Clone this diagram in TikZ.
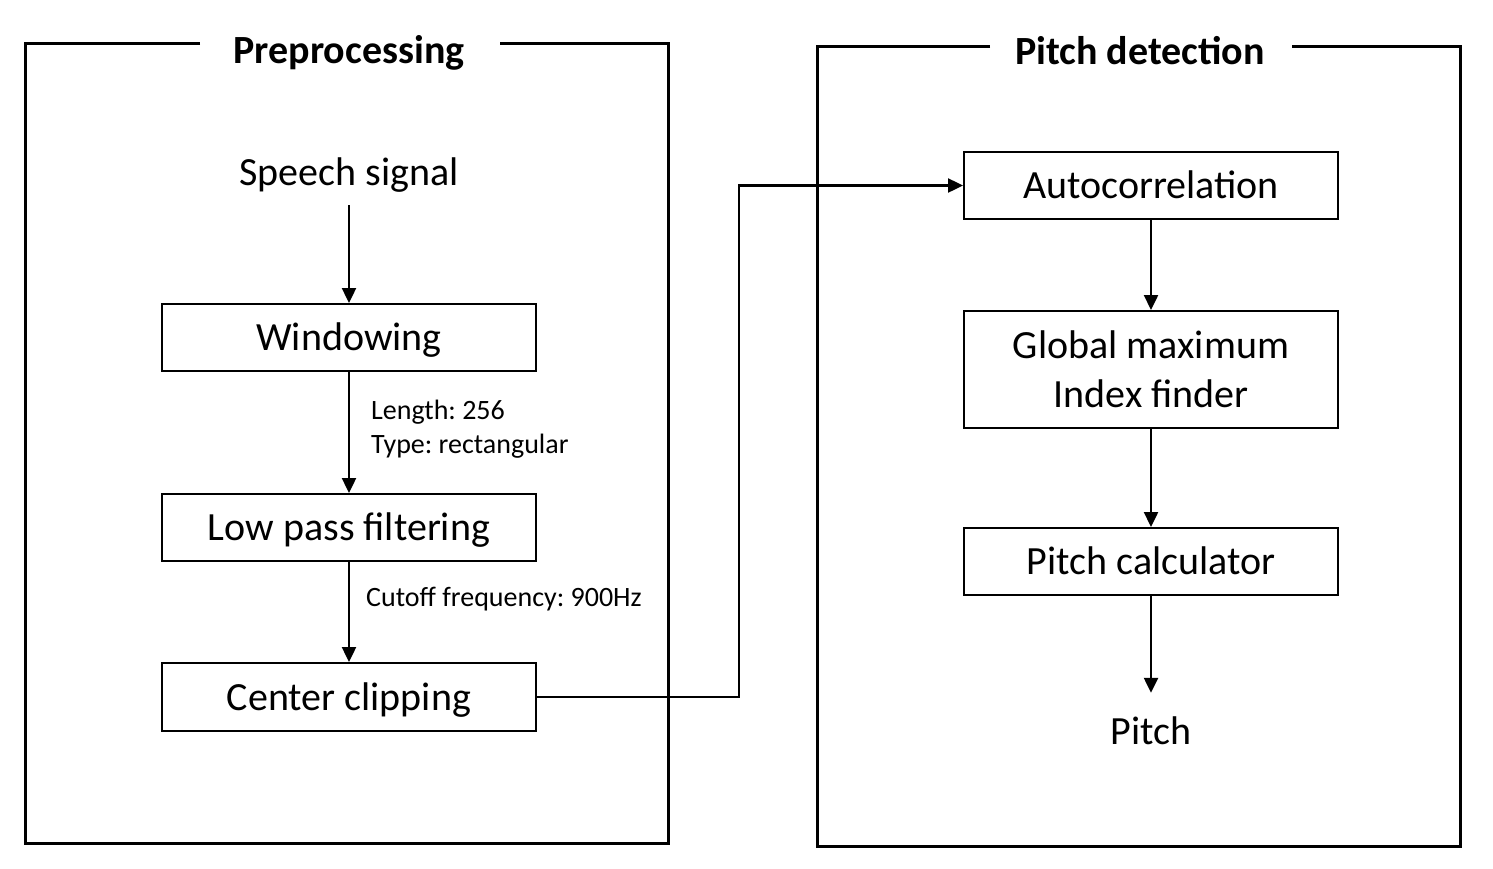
\documentclass[tikz,border=0pt]{standalone}
\usepackage{fontspec}
\setmainfont{Carlito}
\usetikzlibrary{arrows.meta}
\frenchspacing
\tikzset{
  frame/.style={line width=3pt, line join=miter},
  blk/.style={draw, line width=2pt, minimum width=374pt, inner sep=0pt, align=center, font=\fontsize{40}{49}\selectfont},
  one/.style={text height=32pt, text depth=6pt},
  plain/.style={inner sep=0pt, font=\fontsize{40}{48}\selectfont, text height=32pt, text depth=6pt},
  ttl/.style={inner sep=0pt, font=\fontsize{40}{48}\selectfont\bfseries, text height=32pt, text depth=6pt},
  lbl/.style={inner sep=0pt, anchor=west, font=\fontsize{28}{32}\selectfont, text height=21pt, text depth=5pt},
  arr/.style={line width=2.4pt, -{Triangle[length=15pt,width=14pt]}},
}
\begin{document}
\begin{tikzpicture}[x=1pt,y=-1pt]
\useasboundingbox (0,0) rectangle (1493,868);
% frames
\draw[frame] (200,43) -- (25,43) -- (25,843) -- (668,843) -- (668,43) -- (500,43);
\draw[frame] (990,46) -- (817,46) -- (817,846) -- (1460,846) -- (1460,46) -- (1292,46);
\node[ttl] (t1) at (349,50) {Preprocessing};
\node[ttl] (t2) at (1140,51) {Pitch detection};
% left column
\node[plain, inner sep=14pt] (speech) at (349,172) {Speech signal};
\node[blk, one, minimum height=67pt] (win) at (349,337.5) {Windowing};
\node[blk, one, minimum height=67pt] (lpf) at (349,527.5) {Low pass filtering};
\node[blk, one, minimum height=68pt] (cc) at (349,697) {Center clipping};
\node[lbl] (l1) at (371,411) {Length: 256};
\node[lbl] (l2) at (371,445) {Type: rectangular};
\node[lbl] (l3) at (366,598) {Cutoff frequency: 900Hz};
% right column
\node[blk, one, minimum height=67pt] (ac) at (1151,185.5) {Autocorrelation};
\node[blk, minimum height=117pt] (gm) at (1151,369.5) {Global maximum\\Index finder};
\node[blk, one, minimum height=67pt] (pc) at (1151,561.5) {Pitch calculator};
\node[plain, inner sep=19pt] (pitch) at (1151,731) {Pitch};
% connectors
\draw[arr] (speech.south) -- (win.north);
\draw[arr] (win.south) -- (lpf.north);
\draw[arr] (lpf.south) -- (cc.north);
\draw[arr] (ac.south) -- (gm.north);
\draw[arr] (gm.south) -- (pc.north);
\draw[arr] (pc.south) -- (pitch.north);
\coordinate (bend) at (739,0);
\draw[arr] (cc.east) -- (cc.east -| bend) -- (ac.west -| bend) -- (ac.west);
\end{tikzpicture}
\end{document}
